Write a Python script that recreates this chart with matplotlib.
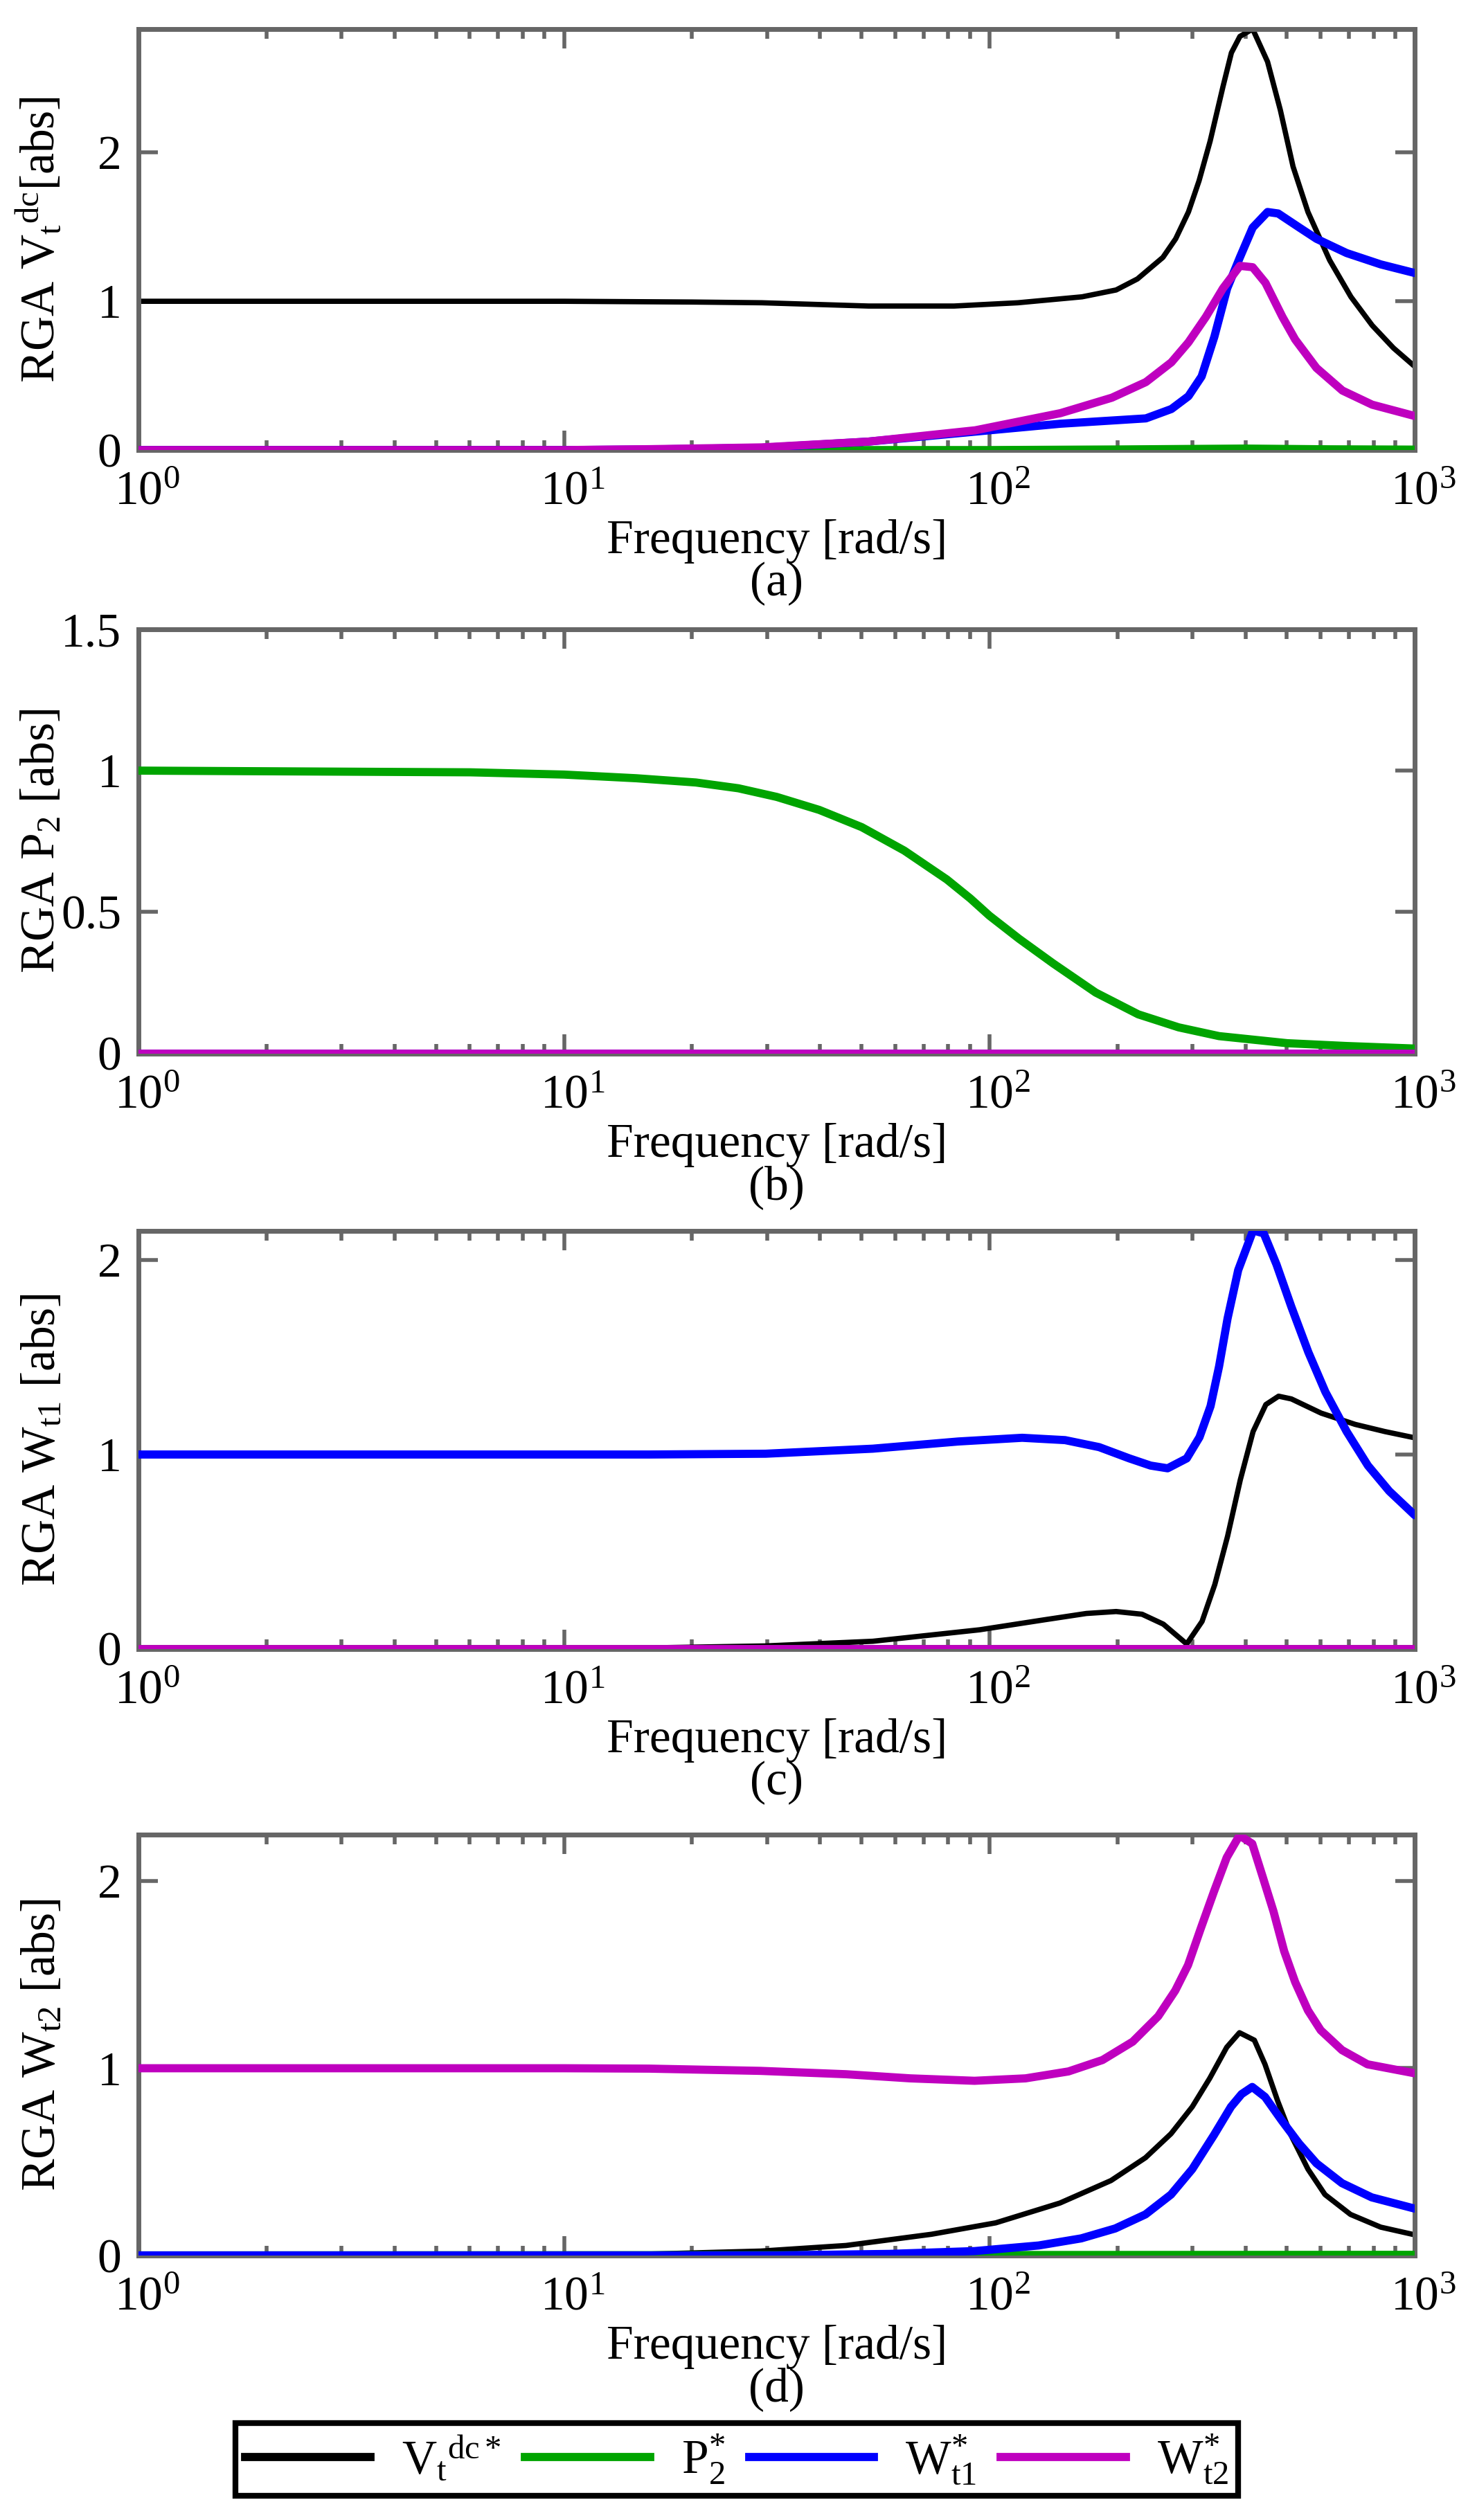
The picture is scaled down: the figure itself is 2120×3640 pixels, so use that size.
#!/usr/bin/env python3

'''
RGA magnitude vs frequency for the four loops (a)-(d)
'''

import numpy as np
import matplotlib.pyplot as plt
from matplotlib.lines import Line2D
from matplotlib.ticker import NullFormatter
from matplotlib.transforms import ScaledTranslation, blended_transform_factory


# -----------------------------
# 1) Data (log10 of frequency, |RGA|)
# -----------------------------

# panel (a): RGA Vt^dc
a_vt_lf = [0, 0.5, 1.0, 1.3, 1.465, 1.716, 1.917, 2.067, 2.218, 2.298, 2.348, 2.408, 2.438,
           2.468, 2.493, 2.519, 2.549, 2.569, 2.589, 2.619, 2.654, 2.684, 2.714, 2.749, 2.8,
           2.85, 2.9, 2.95, 3.0]
a_vt = [1.0, 1.0, 1.0, 0.995, 0.99, 0.968, 0.968, 0.99, 1.03, 1.076, 1.15, 1.295, 1.42,
        1.6, 1.81, 2.076, 2.44, 2.67, 2.78, 2.83, 2.61, 2.286, 1.905, 1.6, 1.276,
        1.03, 0.838, 0.686, 0.562]
a_p2_lf = [0, 2.0, 2.3, 2.6, 2.8, 3.0]
a_p2 = [0, 0.0, 0.004, 0.01, 0.005, 0.003]
a_w1_lf = [0, 1.0, 1.2, 1.465, 1.716, 1.967, 2.167, 2.368, 2.428, 2.468, 2.499, 2.529, 2.559,
           2.589, 2.619, 2.654, 2.679, 2.729, 2.769, 2.84, 2.92, 3.0]
a_w1 = [0, 0.0, 0.004, 0.015, 0.057, 0.124, 0.177, 0.213, 0.276, 0.362, 0.495, 0.762, 1.086,
        1.295, 1.495, 1.6, 1.59, 1.495, 1.42, 1.324, 1.248, 1.19]
a_w2_lf = [0, 1.0, 1.2, 1.465, 1.716, 1.967, 2.167, 2.288, 2.368, 2.428, 2.468, 2.509, 2.549,
           2.589, 2.619, 2.649, 2.689, 2.719, 2.769, 2.83, 2.9, 3.0]
a_w2 = [0, 0.0, 0.006, 0.018, 0.057, 0.133, 0.248, 0.352, 0.457, 0.59, 0.724, 0.895, 1.086,
        1.238, 1.229, 1.124, 0.895, 0.743, 0.552, 0.4, 0.305, 0.229]

# panel (b): RGA P2
b_vt_lf = [0, 3.0]
b_vt = [0, 0]
b_p2_lf = [0, 0.52, 0.78, 1.0, 1.17, 1.31, 1.41, 1.5, 1.6, 1.7, 1.8, 1.9, 1.955, 2.0, 2.07,
           2.15, 2.25, 2.35, 2.445, 2.54, 2.7, 2.84, 3.0]
b_p2 = [1.0, 0.996, 0.994, 0.986, 0.973, 0.958, 0.9375, 0.907, 0.861, 0.8, 0.717, 0.615,
        0.548, 0.487, 0.405, 0.318, 0.215, 0.138, 0.092, 0.061, 0.036, 0.026, 0.017]
b_w1_lf = [0, 3.0]
b_w1 = [0, 0]
b_w2_lf = [0, 3.0]
b_w2 = [0, 0]

# panel (c): RGA Wt1
c_vt_lf = [0, 1.0, 1.2, 1.474, 1.726, 1.977, 2.128, 2.228, 2.298, 2.359, 2.409, 2.464, 2.5,
           2.53, 2.56, 2.59, 2.62, 2.65, 2.68, 2.71, 2.78, 2.86, 2.93, 3.0]
c_vt = [0, 0.0, 0.005, 0.015, 0.039, 0.098, 0.149, 0.182, 0.192, 0.178, 0.127, 0.025, 0.141,
        0.331, 0.579, 0.87, 1.118, 1.257, 1.3, 1.286, 1.213, 1.155, 1.118, 1.086]
c_p2_lf = [0, 3.0]
c_p2 = [0, 0]
c_w1_lf = [0, 1.0, 1.2, 1.474, 1.726, 1.927, 2.077, 2.178, 2.258, 2.329, 2.379, 2.419, 2.464,
           2.494, 2.52, 2.54, 2.56, 2.585, 2.62, 2.645, 2.675, 2.71, 2.75, 2.79, 2.84, 2.89,
           2.94, 3.0]
c_w1 = [1.0, 1.0, 1.0, 1.004, 1.03, 1.067, 1.086, 1.074, 1.038, 0.98, 0.943, 0.929, 0.98,
        1.089, 1.249, 1.453, 1.70, 1.949, 2.153, 2.138, 1.978, 1.76, 1.526, 1.322, 1.118, 0.943,
        0.812, 0.688]
c_w2_lf = [0, 3.0]
c_w2 = [0, 0]

# panel (d): RGA Wt2
d_vt_lf = [0, 1.0, 1.2, 1.462, 1.663, 1.864, 2.015, 2.166, 2.286, 2.367, 2.427, 2.477, 2.518,
           2.558, 2.588, 2.623, 2.648, 2.678, 2.709, 2.749, 2.789, 2.849, 2.92, 3.0]
d_vt = [0, 0.0, 0.007, 0.023, 0.053, 0.113, 0.174, 0.28, 0.4, 0.522, 0.65, 0.794, 0.946,
        1.112, 1.19, 1.15, 1.021, 0.824, 0.643, 0.461, 0.325, 0.219, 0.151, 0.11]
d_p2_lf = [0, 3.0]
d_p2 = [0, 0.003]
d_w1_lf = [0, 1.5, 1.764, 1.965, 2.116, 2.216, 2.296, 2.367, 2.427, 2.477, 2.528, 2.568, 2.593,
           2.618, 2.648, 2.688, 2.728, 2.769, 2.829, 2.899, 3.0]
d_w1 = [0, 0.0, 0.008, 0.023, 0.053, 0.091, 0.144, 0.219, 0.325, 0.461, 0.643, 0.794, 0.862,
        0.9, 0.847, 0.719, 0.598, 0.492, 0.386, 0.31, 0.25]
d_w2_lf = [0, 1.0, 1.2, 1.462, 1.663, 1.814, 1.965, 2.085, 2.186, 2.266, 2.337, 2.397, 2.437,
           2.467, 2.497, 2.528, 2.558, 2.588, 2.618, 2.643, 2.668, 2.693, 2.719, 2.749, 2.779,
           2.829, 2.889, 3.0]
d_w2 = [1.0, 1.0, 0.998, 0.986, 0.968, 0.946, 0.933, 0.946, 0.983, 1.044, 1.142, 1.278, 1.415,
        1.551, 1.747, 1.944, 2.126, 2.244, 2.2, 2.02, 1.838, 1.626, 1.46, 1.309, 1.203, 1.097,
        1.021, 0.973]

series_labels = [r"V$_{\mathrm{t}}{}^{\mathrm{dc}*}$", r"P$_{2}^{*}$",
                 r"W$_{\mathrm{t1}}^{*}$", r"W$_{\mathrm{t2}}^{*}$"]
series_colors = ["#000000", "#00A400", "#0000FF", "#BF00BF"]
series_widths = [5.5, 8.5, 8.5, 8.5]

ylabels = [r"RGA V$_{\mathrm{t}}{}^{\mathrm{dc}}$[abs]", r"RGA P$_{2}$ [abs]",
           r"RGA W$_{\mathrm{t1}}$ [abs]", r"RGA W$_{\mathrm{t2}}$ [abs]"]
panel_tags = ["(a)", "(b)", "(c)", "(d)"]
ytop = [2.83, 1.5, 2.15, 2.25]
yticks = [[0, 1, 2], [0, 0.5, 1, 1.5], [0, 1, 2], [0, 1, 2]]
yticklabels = [["0", "1", "2"], ["0", "0.5", "1", "1.5"], ["0", "1", "2"], ["0", "1", "2"]]
xdecades = [0, 1, 2, 3]

panels = [
    [(a_vt_lf, a_vt), (a_p2_lf, a_p2), (a_w1_lf, a_w1), (a_w2_lf, a_w2)],
    [(b_vt_lf, b_vt), (b_p2_lf, b_p2), (b_w1_lf, b_w1), (b_w2_lf, b_w2)],
    [(c_vt_lf, c_vt), (c_p2_lf, c_p2), (c_w1_lf, c_w1), (c_w2_lf, c_w2)],
    [(d_vt_lf, d_vt), (d_p2_lf, d_p2), (d_w1_lf, d_w1), (d_w2_lf, d_w2)],
]


# -----------------------------
# 2) Style
# -----------------------------
plt.rcParams["font.family"] = ["Liberation Serif", "DejaVu Serif"]
plt.rcParams["mathtext.fontset"] = "custom"
plt.rcParams["mathtext.rm"] = "Liberation Serif"
plt.rcParams["mathtext.it"] = "Liberation Serif:italic"
plt.rcParams["mathtext.bf"] = "Liberation Serif:bold"
plt.rcParams["font.size"] = 50

gray = "#666666"
FIG_H_PX = 3640

# axes rectangles in figure fraction: left, bottom, width, height
rects = [
    [0.0945, 0.8214, 0.8692, 0.1671],
    [0.0945, 0.5820, 0.8692, 0.1683],
    [0.0945, 0.3457, 0.8692, 0.1658],
    [0.0945, 0.1050, 0.8692, 0.1671],
]


# -----------------------------
# 3) Draw
# -----------------------------
fig = plt.figure(figsize=(21.2, 36.4), dpi=100)

for i, rect in enumerate(rects):
    ax = fig.add_axes(rect)
    for k, (lf, vals) in enumerate(panels[i]):
        ax.plot(10 ** np.array(lf), vals, color=series_colors[k],
                lw=series_widths[k], solid_capstyle="round", zorder=2 + k)

    ax.set_xscale("log")
    ax.set_xlim(1, 1000)
    ax.set_ylim(0, ytop[i])
    ax.set_yticks(yticks[i])
    ax.set_yticklabels(yticklabels[i])
    ax.set_xticks([10 ** e for e in xdecades])
    ax.xaxis.set_major_formatter(NullFormatter())
    ax.xaxis.set_minor_formatter(NullFormatter())

    for s in ax.spines.values():
        s.set_color(gray)
        s.set_linewidth(5)
    ax.tick_params(which="both", direction="in", top=True, right=True,
                   color=gray, labelcolor="black")
    ax.tick_params(which="major", length=20, width=4)
    ax.tick_params(axis="y", which="major", pad=18)
    ax.tick_params(which="minor", length=10, width=4)
    ax.tick_params(axis="y", which="minor", left=False, right=False)

    # decade labels: the "10" centred on the tick, exponent hanging to the right
    tr = blended_transform_factory(ax.transData, ax.transAxes) + \
        ScaledTranslation(0.12, -0.30, fig.dpi_scale_trans)
    for e in xdecades:
        ax.text(10 ** e, 0, r"$\mathdefault{10^{%d}}$" % e, transform=tr,
                ha="center", va="top")

    ax.set_xlabel("Frequency [rad/s]\n" + panel_tags[i], linespacing=0.95, va="top")
    ax.xaxis.set_label_coords(0.5, -100.0 / (rect[3] * FIG_H_PX))
    ax.set_ylabel(ylabels[i])
    ax.yaxis.set_label_coords(-0.058, 0.5)

handles = [Line2D([], [], color=c, lw=8.5) for c in series_colors]
leg = fig.legend(handles, series_labels, loc="lower center", bbox_to_anchor=(0.502, 0.0),
                 ncol=4, frameon=True, fancybox=False, framealpha=1, edgecolor="black",
                 handlelength=2.6, handletextpad=0.65, columnspacing=0.5, borderpad=0.2)
leg.get_frame().set_linewidth(6)

fig.savefig("out.png", dpi=100, facecolor="white")
plt.close(fig)
print("Saved plot as out.png")
